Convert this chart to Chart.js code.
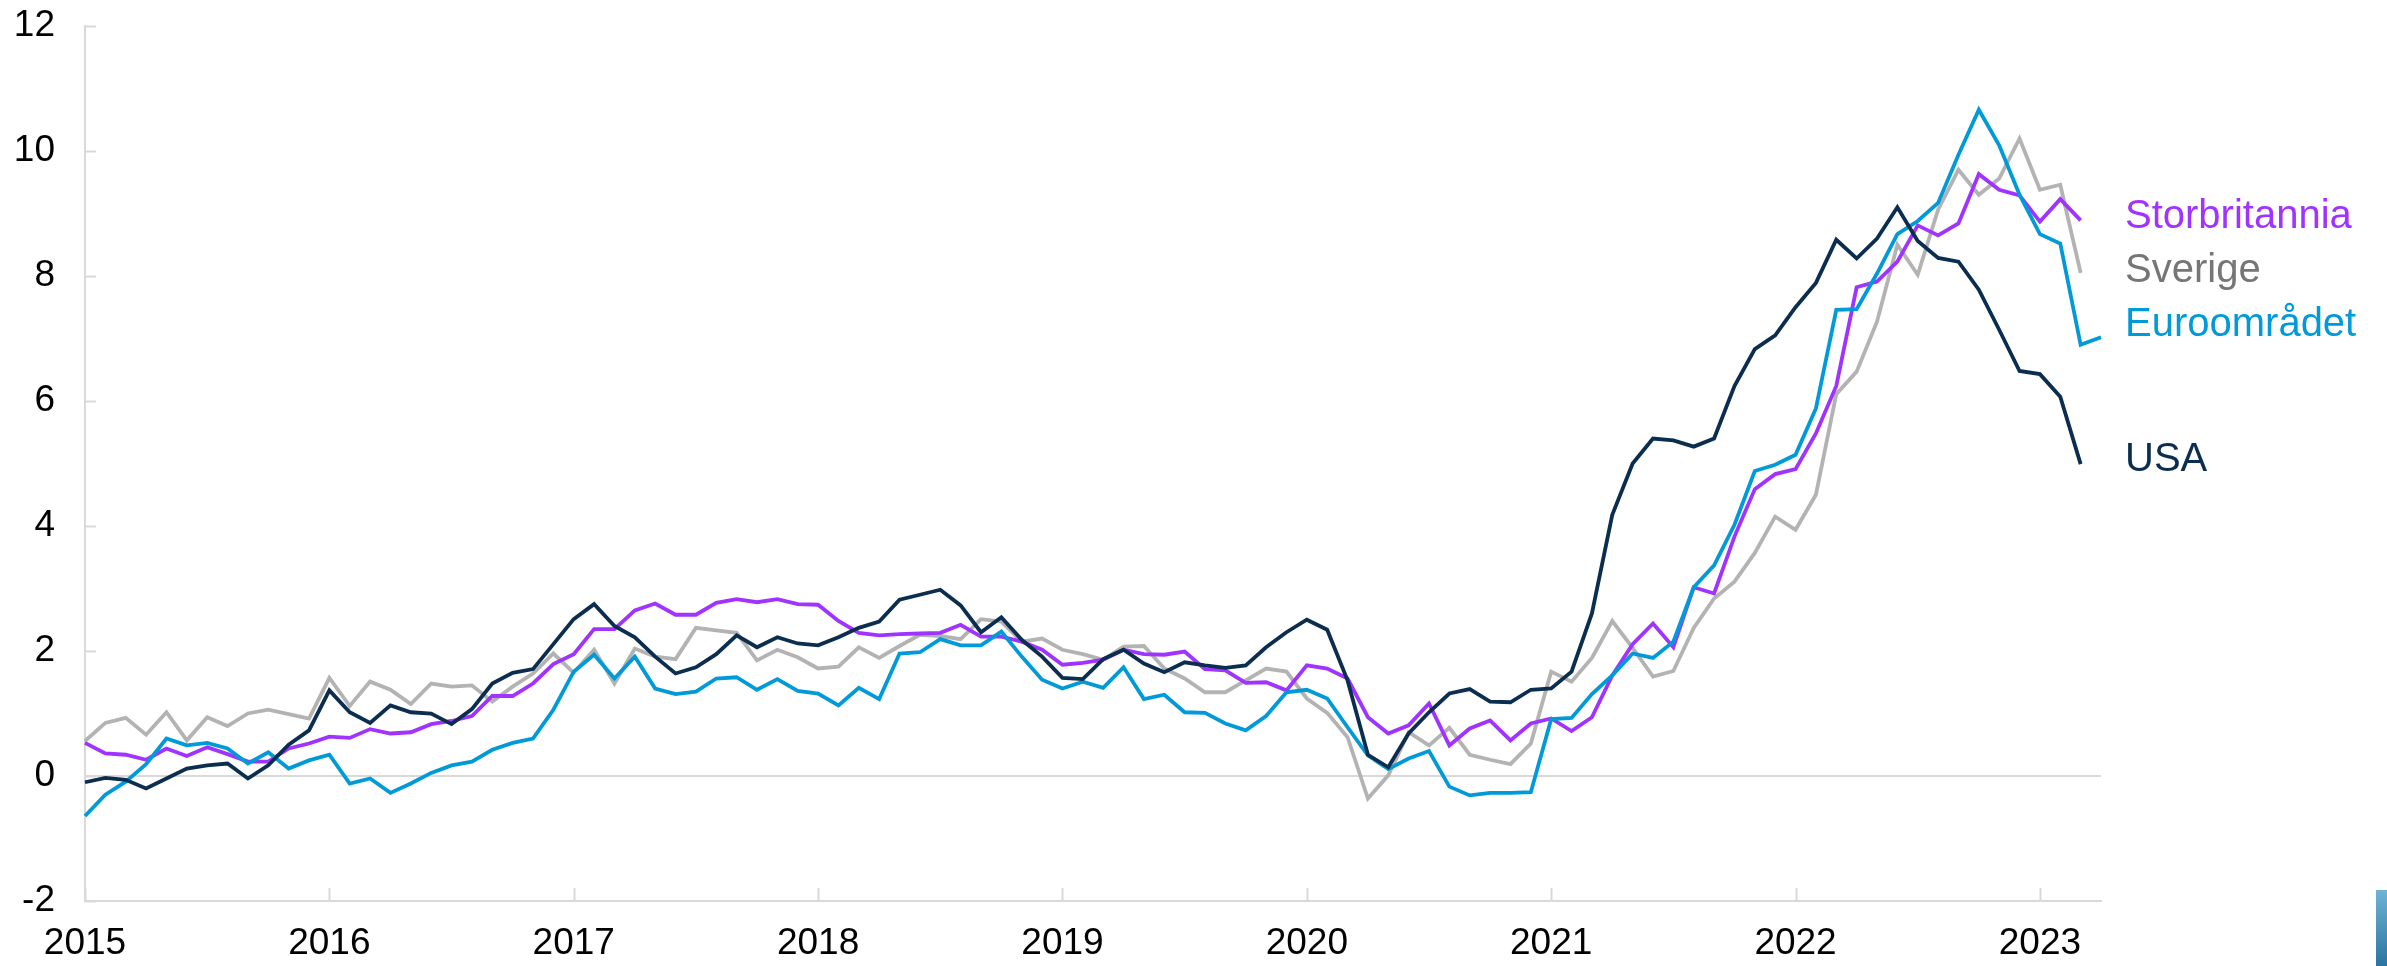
<!DOCTYPE html>
<html>
<head>
<meta charset="utf-8">
<script src="https://cdn.jsdelivr.net/npm/chart.js@4.4.1/dist/chart.umd.min.js"></script>
<style>
  html, body { margin: 0; padding: 0; background: #fff; }
  .wrap { position: relative; width: 2387px; height: 966px; overflow: hidden; }
  canvas { position: absolute; left: 0; top: 0; }
  .lbl { position: absolute; left: 2125px; font-family: "Liberation Sans", Arial, sans-serif; font-size: 40px; line-height: 40px; white-space: nowrap; }
  .corner { position: absolute; left: 2376px; top: 890px; width: 11px; height: 76px; background: linear-gradient(#6fb4d5, #2b74a1); }
</style>
</head>
<body>
<div class="wrap">
  <canvas id="inflChart" width="2387" height="966"></canvas>
  <div class="lbl" style="top:194px;color:#a033ff">Storbritannia</div>
  <div class="lbl" style="top:248px;color:#767676">Sverige</div>
  <div class="lbl" style="top:302px;color:#009ad9">Euroområdet</div>
  <div class="lbl" style="top:437px;color:#0b2d4f">USA</div>
  <div class="corner"></div>
</div>
<script>
// Years on the x axis, one category per month (Jan 2015 - Apr 2023)
const years = [2015, 2016, 2017, 2018, 2019, 2020, 2021, 2022, 2023];
const lastMonth2023 = 4;
const months = [];
years.forEach(y => {
    const n = y === 2023 ? lastMonth2023 : 12;
    for (let m = 1; m <= n; m++) months.push(y + '-' + String(m).padStart(2, '0'));
});

const yTicks = [-2, 0, 2, 4, 6, 8, 10, 12];

// Inflation, % y/y
const usa = [
    -0.1, -0.03, -0.06, -0.2, -0.04, 0.12, 0.17, 0.2, -0.04, 0.17, 0.5, 0.73,
    1.37, 1.02, 0.85, 1.13, 1.02, 1.0, 0.83, 1.07, 1.48, 1.65, 1.71, 2.11,
    2.51, 2.75, 2.4, 2.22, 1.91, 1.64, 1.74, 1.95, 2.25, 2.06, 2.22, 2.12,
    2.09, 2.22, 2.37, 2.47, 2.82, 2.9, 2.98, 2.73, 2.3, 2.54, 2.18, 1.91,
    1.57, 1.55, 1.87, 2.02, 1.8, 1.66, 1.82, 1.77, 1.73, 1.77, 2.06, 2.3,
    2.5, 2.34, 1.53, 0.34, 0.14, 0.68, 1.02, 1.32, 1.39, 1.19, 1.18, 1.38,
    1.4, 1.67, 2.6, 4.18, 5.0, 5.4, 5.37, 5.27, 5.4, 6.24, 6.83, 7.05,
    7.5, 7.89, 8.58, 8.28, 8.6, 9.1, 8.56, 8.29, 8.23, 7.78, 7.14, 6.48,
    6.43, 6.07, 4.99, null
];

const euro = [
    -0.64, -0.3, -0.09, 0.19, 0.6, 0.49, 0.53, 0.44, 0.2, 0.38, 0.12, 0.25,
    0.34, -0.12, -0.04, -0.27, -0.12, 0.05, 0.17, 0.23, 0.42, 0.53, 0.6, 1.06,
    1.67, 1.94, 1.56, 1.91, 1.4, 1.31, 1.35, 1.56, 1.58, 1.38, 1.55, 1.36,
    1.32, 1.13, 1.41, 1.23, 1.96, 1.98, 2.19, 2.09, 2.09, 2.31, 1.91, 1.54,
    1.4, 1.51, 1.41, 1.74, 1.23, 1.3, 1.02, 1.01, 0.84, 0.73, 0.96, 1.34,
    1.38, 1.24, 0.78, 0.33, 0.11, 0.28, 0.4, -0.17, -0.31, -0.27, -0.27, -0.26,
    0.91, 0.93, 1.31, 1.61, 1.96, 1.89, 2.15, 3.02, 3.37, 4.02, 4.88, 4.98,
    5.14, 5.88, 7.46, 7.47, 8.04, 8.67, 8.88, 9.17, 9.94, 10.66, 10.09, 9.3,
    8.67, 8.52, 6.9, 7.02
];

const uk = [
    0.53, 0.36, 0.34, 0.26, 0.44, 0.32, 0.46, 0.35, 0.23, 0.23, 0.44, 0.52,
    0.63, 0.61, 0.75, 0.68, 0.7, 0.83, 0.88, 0.96, 1.28, 1.28, 1.48, 1.79,
    1.95, 2.35, 2.35, 2.65, 2.76, 2.58, 2.58, 2.77, 2.83, 2.78, 2.83, 2.75,
    2.74, 2.48, 2.29, 2.25, 2.27, 2.28, 2.29, 2.42, 2.23, 2.23, 2.15, 2.02,
    1.78, 1.81, 1.86, 2.02, 1.95, 1.94, 1.99, 1.71, 1.69, 1.49, 1.5, 1.37,
    1.77, 1.72, 1.56, 0.94, 0.68, 0.81, 1.16, 0.49, 0.76, 0.89, 0.57, 0.84,
    0.92, 0.72, 0.94, 1.61, 2.11, 2.44, 2.06, 3.02, 2.92, 3.83, 4.59, 4.83,
    4.91, 5.48, 6.24, 7.82, 7.91, 8.23, 8.81, 8.65, 8.84, 9.63, 9.38, 9.29,
    8.87, 9.23, 8.89, null
];

const sweden = [
    0.56, 0.85, 0.93, 0.66, 1.02, 0.57, 0.94, 0.8, 1.0, 1.06, 0.99, 0.92,
    1.57, 1.12, 1.51, 1.38, 1.15, 1.48, 1.43, 1.45, 1.19, 1.43, 1.64, 1.96,
    1.65, 2.02, 1.48, 2.04, 1.91, 1.87, 2.37, 2.33, 2.29, 1.85, 2.02, 1.9,
    1.72, 1.75, 2.06, 1.89, 2.08, 2.26, 2.24, 2.19, 2.51, 2.47, 2.15, 2.2,
    2.02, 1.95, 1.86, 2.07, 2.08, 1.72, 1.56, 1.34, 1.34, 1.53, 1.72, 1.67,
    1.24, 1.01, 0.62, -0.36, 0.01, 0.7, 0.49, 0.77, 0.34, 0.26, 0.19, 0.52,
    1.67, 1.51, 1.89, 2.48, 2.05, 1.59, 1.68, 2.37, 2.84, 3.11, 3.57, 4.15,
    3.94, 4.5, 6.11, 6.47, 7.27, 8.5, 8.02, 9.06, 9.7, 9.3, 9.56, 10.2,
    9.38, 9.46, 8.05, null
];

const axisColor = '#d9d9d9';
const fontFamily = '"Liberation Sans", Arial, sans-serif';

// short tick marks pointing into the plot area
const innerTicks = {
    id: 'innerTicks',
    afterDraw(chart) {
        const { ctx, scales: { x, y } } = chart;
        ctx.save();
        ctx.strokeStyle = axisColor;
        ctx.lineWidth = 2;
        ctx.beginPath();
        yTicks.forEach(v => {
            const py = Math.round(y.getPixelForValue(v)) + 0.5;
            ctx.moveTo(x.left, py);
            ctx.lineTo(x.left + 11, py);
        });
        months.forEach((m, i) => {
            if (!m.endsWith('-01')) return;
            const px = Math.round(x.getPixelForValue(i)) + 0.5;
            ctx.moveTo(px, y.bottom);
            ctx.lineTo(px, y.bottom - 13);
        });
        ctx.stroke();
        ctx.restore();
    }
};

function line(label, data, color, order) {
    return {
        label: label,
        data: data,
        borderColor: color,
        backgroundColor: color,
        borderWidth: 3.8,
        pointRadius: 0,
        tension: 0,
        spanGaps: false,
        order: order
    };
}

new Chart(document.getElementById('inflChart'), {
    type: 'line',
    data: {
        labels: months,
        datasets: [
            line('Sverige', sweden, '#b3b3b3', 4),
            line('Storbritannia', uk, '#a033ff', 3),
            line('Euroområdet', euro, '#009ad9', 2),
            line('USA', usa, '#0b2d4f', 1)
        ]
    },
    options: {
        responsive: false,
        animation: false,
        events: [],
        layout: { padding: { top: 26, right: 286, left: 0, bottom: 0 } },
        plugins: {
            legend: { display: false },
            tooltip: { enabled: false }
        },
        scales: {
            x: {
                type: 'category',
                offset: false,
                afterFit(scale) { scale.height = 65; },
                grid: { display: false, drawTicks: false },
                border: { display: true, color: axisColor, width: 2 },
                ticks: {
                    autoSkip: false,
                    maxRotation: 0,
                    padding: 21,
                    color: '#000',
                    font: { family: fontFamily, size: 37 },
                    callback(val, i) {
                        const m = months[i];
                        return m.endsWith('-01') ? m.slice(0, 4) : '';
                    }
                }
            },
            y: {
                min: -2,
                max: 12,
                afterFit(scale) { scale.width = 85; },
                grid: {
                    drawTicks: true,
                    tickLength: 30,
                    tickColor: 'rgba(0,0,0,0)',
                    lineWidth: 2,
                    color: c => (c.tick && c.tick.value === 0 ? axisColor : 'rgba(0,0,0,0)')
                },
                border: { display: true, color: axisColor, width: 2 },
                ticks: {
                    stepSize: 2,
                    padding: 0,
                    color: '#000',
                    font: { family: fontFamily, size: 37 }
                }
            }
        }
    },
    plugins: [innerTicks]
});
</script>
</body>
</html>
